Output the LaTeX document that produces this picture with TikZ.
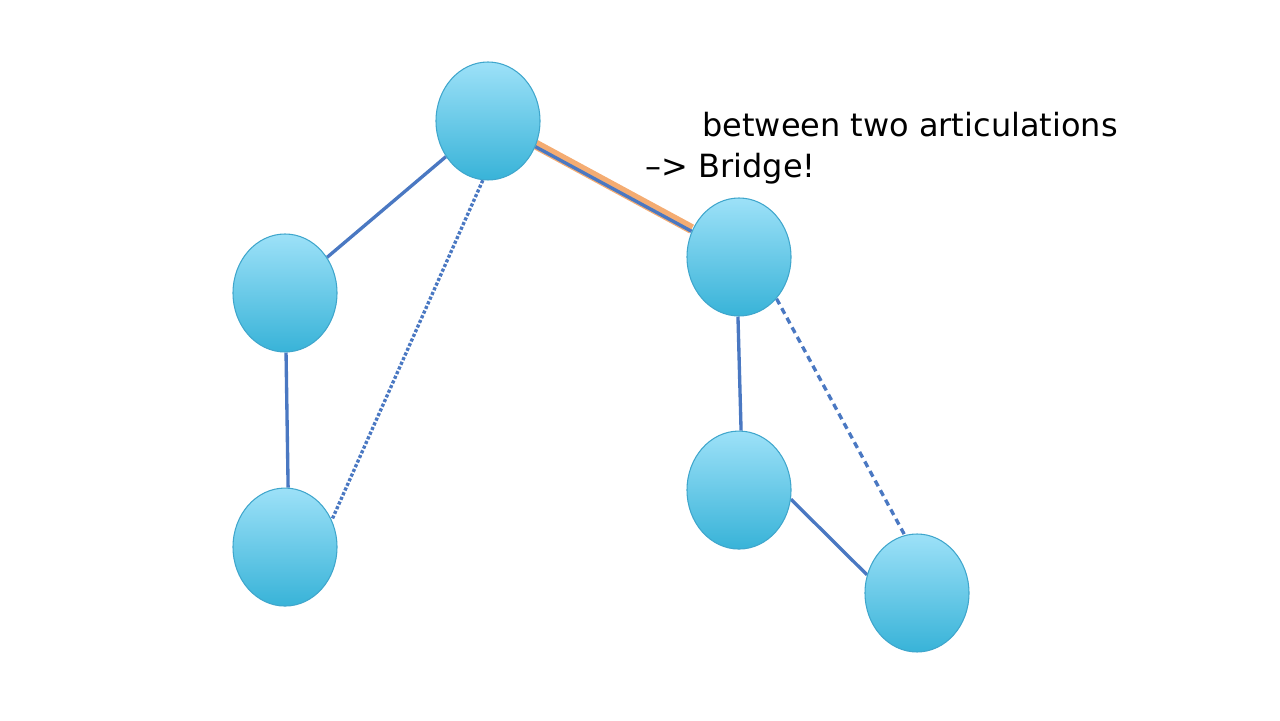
\documentclass[tikz,border=0pt]{standalone}
\usepackage{fontspec}
\setmainfont{DejaVu Sans}
\usetikzlibrary{positioning, shapes.geometric}
\pgfdeclarelayer{background}
\pgfsetlayers{background,main}
\definecolor{linkblue}{HTML}{4A78C2}
\definecolor{bridgeorange}{HTML}{F4AC72}
\definecolor{balltop}{HTML}{9DE1F8}
\definecolor{ballbottom}{HTML}{38B3D8}
\definecolor{ballrim}{HTML}{3FA6CC}
\tikzset{
    vertex/.style={ellipse, minimum width=2.08cm, minimum height=2.36cm, inner sep=0pt,
        draw=ballrim, line width=0.6pt, top color=balltop, bottom color=ballbottom},
    link/.style={draw=linkblue, line width=1.9pt},
    dotlink/.style={link, dash pattern=on 1.8pt off 1.1pt},
    dashlink/.style={link, dash pattern=on 3.6pt off 2.6pt},
    bridgeglow/.style={draw=bridgeorange, line width=5.6pt},
    caption/.style={font=\fontsize{18.2}{23}\selectfont, inner sep=0pt},
}

\begin{document}
\begin{tikzpicture}
    \useasboundingbox (0,0) rectangle (25.6,14.4);

    \node[vertex] (top) at (9.76,11.98) {};
    \node[vertex] (L1) at (5.70,8.54) {};
    \node[vertex, below=2.7cm of L1] (L2) {};
    \node[vertex] (R1) at (14.78,9.26) {};
    \node[vertex, below=2.28cm of R1] (R2) {};
    \node[vertex] (R3) at (18.34,2.54) {};

    \node[caption, anchor=base west] (between) at (14.04,11.66) {between two articulations};
    \node[caption, anchor=base east] (bridge) at (16.32,10.84) {–> Bridge!};

    \begin{pgfonlayer}{background}
    \draw[bridgeglow, transform canvas={yshift=1.3pt}] (top) -- (R1);
    \draw (top) edge[link] (R1);
    \draw (top) edge[link] (L1);
    \draw (L1.-89) edge[link] (L2.87);
    \draw (top.-95) edge[dotlink] (L2.30);
    \draw (R1.-91) edge[link] (R2.88);
    \draw (R1.-48) edge[dashlink] (R3.102);
    \draw (R2.-10) edge[link] (R3.160);
    \end{pgfonlayer}

\end{tikzpicture}
\end{document}
